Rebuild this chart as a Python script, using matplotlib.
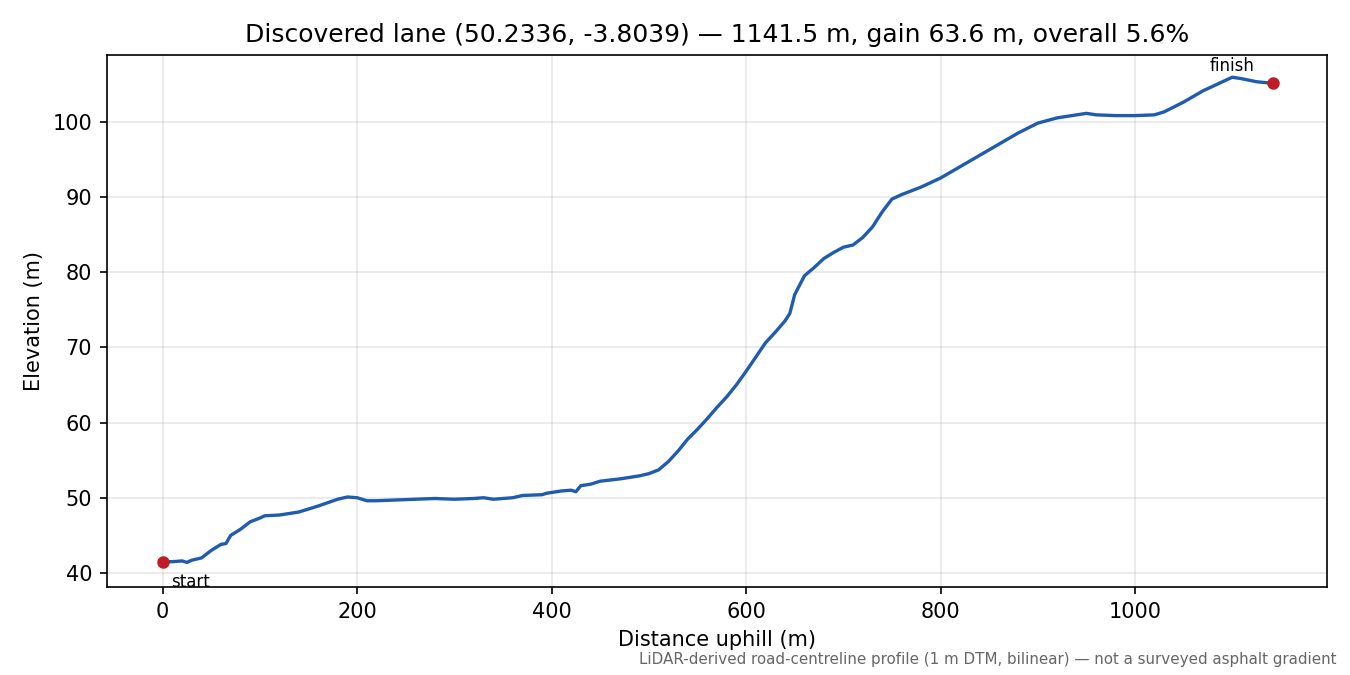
import matplotlib
matplotlib.use("Agg")
import matplotlib.pyplot as plt

dist = [0,10,20,25,30,40,50,55,60,65,70,80,90,100,105,120,140,160,180,190,200,210,220,240,260,280,300,320,330,340,360,370,390,395,410,420,425,430,440,450,470,490,500,510,520,530,540,550,560,570,580,590,600,610,620,630,640,645,650,660,670,680,690,700,710,720,730,740,750,760,780,800,820,840,860,880,900,920,940,950,960,980,1000,1020,1030,1050,1070,1090,1100,1110,1125,1141.5]
elev = [41.5,41.5,41.6,41.4,41.7,42.0,43.0,43.4,43.8,43.9,45.0,45.8,46.8,47.3,47.6,47.7,48.1,48.9,49.8,50.1,50.0,49.6,49.6,49.7,49.8,49.9,49.8,49.9,50.0,49.8,50.0,50.3,50.4,50.6,50.9,51.0,50.8,51.6,51.8,52.2,52.5,52.9,53.2,53.7,54.8,56.2,57.8,59.1,60.5,62.0,63.4,65.0,66.8,68.7,70.6,72.0,73.5,74.5,77.0,79.5,80.6,81.8,82.6,83.3,83.6,84.6,86.0,88.0,89.7,90.3,91.3,92.5,94.0,95.5,97.0,98.5,99.8,100.5,100.9,101.1,100.9,100.8,100.8,100.9,101.3,102.6,104.1,105.3,105.9,105.7,105.3,105.1]

fig = plt.figure(figsize=(9, 4.5), dpi=150)
ax = fig.add_axes([0.079, 0.130, 0.904, 0.789])
ax.plot(dist, elev, color="#1f5bb0", lw=1.6)
ax.scatter([dist[0], dist[-1]], [elev[0], elev[-1]], color="#c01c28", s=25, zorder=3)
ax.annotate("start", (dist[0], elev[0]), xytext=(4, -12), textcoords="offset points", fontsize=8)
ax.annotate("finish", (dist[-1], elev[-1]), xytext=(-30, 6), textcoords="offset points", fontsize=8)
ax.set_xlim(-57.6, 1197.5)
ax.set_ylim(38.1, 108.9)
ax.grid(True, alpha=0.3)
ax.set_xlabel("Distance uphill (m)")
ax.set_ylabel("Elevation (m)")
ax.set_title("Discovered lane (50.2336, -3.8039) — 1141.5 m, gain 63.6 m, overall 5.6%")
fig.text(0.99, 0.012, "LiDAR-derived road-centreline profile (1 m DTM, bilinear) — not a surveyed asphalt gradient",
         ha="right", va="bottom", fontsize=7.25, color="#666666")
fig.savefig("out.png")
